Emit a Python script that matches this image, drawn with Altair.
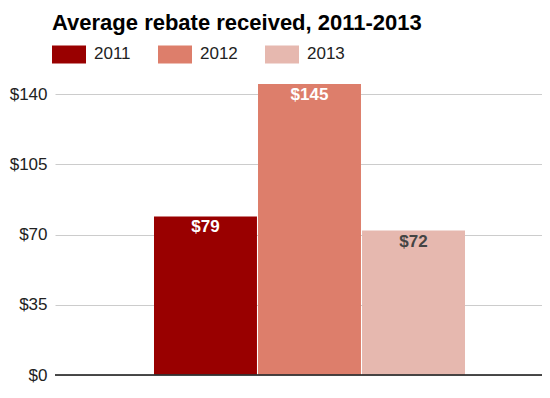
import altair as alt
import pandas as pd

years = ["2011", "2012", "2013"]
rebates = [79, 145, 72]
labels = ["$79", "$145", "$72"]

bar_colors = ["#990000", "#dd7e6b", "#e6b8af"]
text_colors = ["#ffffff", "#ffffff", "#444444"]

df = pd.DataFrame({"year": years, "rebate": rebates, "label": labels})

FONT = "Liberation Sans"

x = alt.X("year:N", axis=None,
          scale=alt.Scale(paddingInner=0.01, paddingOuter=0.846, align=0.5625))
y = alt.Y("rebate:Q", title=None,
          scale=alt.Scale(domain=[0, 150], nice=False),
          axis=alt.Axis(values=[0, 35, 70, 105, 140], labelExpr="'$' + datum.value",
                        domain=False, ticks=False, grid=True, gridColor="#cccccc",
                        labelFontSize=17, labelColor="#222222", labelFont=FONT,
                        labelPadding=8))

bars = alt.Chart(df).mark_bar().encode(
    x=x, y=y,
    color=alt.Color("year:N", scale=alt.Scale(domain=years, range=bar_colors),
                    legend=alt.Legend(title=None, orient="none", direction="horizontal",
                                      legendX=-3, legendY=-37,
                                      symbolType="M-1,-0.53L1,-0.53L1,0.53L-1,0.53Z",
                                      symbolSize=1156, symbolStrokeWidth=0,
                                      symbolOpacity=1, labelOffset=8,
                                      labelFontSize=17, labelColor="#222222",
                                      labelFont=FONT, columnPadding=27, padding=0)),
)

text = alt.Chart(df).mark_text(fontWeight="bold", fontSize=17, font=FONT,
                               baseline="middle", dy=11).encode(
    x=x, y=y,
    text="label:N",
    color=alt.Color("year:N", scale=alt.Scale(domain=years, range=text_colors), legend=None),
)

base = alt.Chart(df).mark_rule(color="#333333", strokeWidth=1).encode(y=alt.datum(0))

chart = alt.layer(bars, text, base).resolve_scale(color="independent").properties(
    width=487, height=301,
    title=alt.TitleParams("Average rebate received, 2011-2013", anchor="start",
                          frame="group", fontSize=22, fontWeight="bold",
                          font=FONT, color="#000000", dx=-3, dy=29, offset=14,
                          baseline="alphabetic"),
    autosize=alt.AutoSizeParams(type="none"),
    padding={"left": 47, "top": 66, "right": 0, "bottom": 8},
).configure_view(stroke=None)

chart.save("out.html", embed_options={"renderer": "svg", "actions": False})
